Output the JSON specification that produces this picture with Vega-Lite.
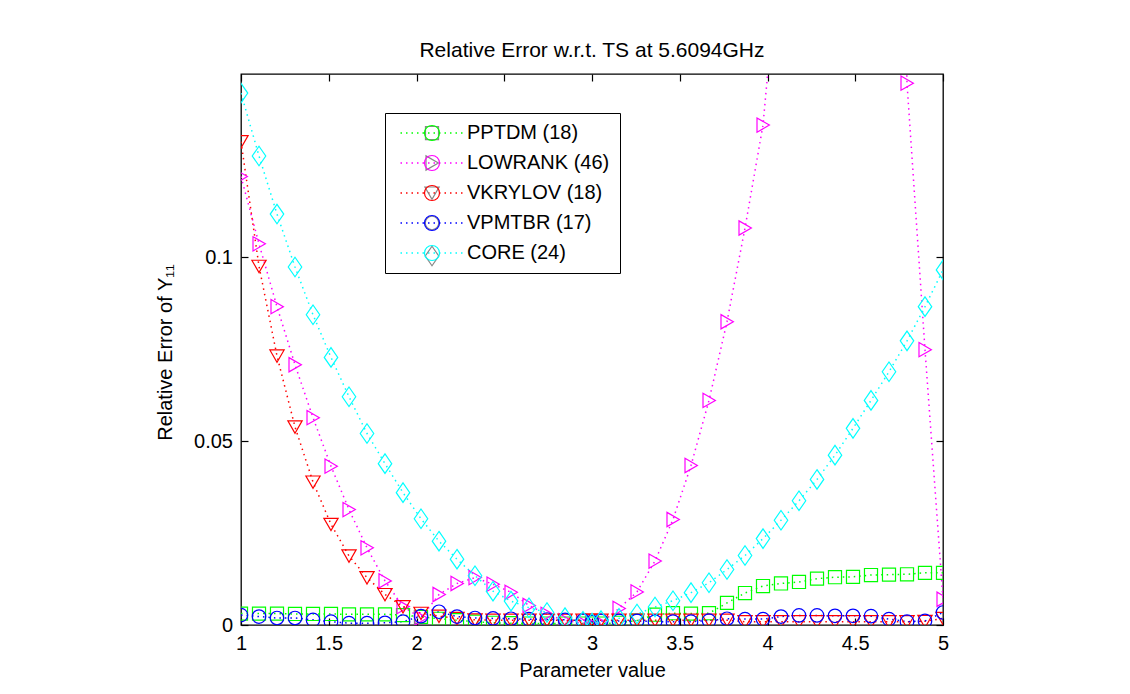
{
  "$schema": "https://vega.github.io/schema/vega-lite/v6.json",
  "autosize": {"type": "none"},
  "padding": {"left": 241, "top": 74, "right": 187, "bottom": 69},
  "width": 702,
  "height": 551,
  "background": "white",
  "title": {"text": "Relative Error w.r.t. TS at 5.6094GHz", "font": "Liberation Sans", "fontSize": 21, "fontWeight": "normal", "color": "black", "baseline": "alphabetic", "offset": -5, "anchor": "middle"},
  "config": {
    "view": {"stroke": "black", "strokeWidth": 1.3},
    "font": "Liberation Sans",
    "axis": {"grid": false}
  },
  "data": {"values": [
    {"s":"PPTDM (18)","x":1,"y":0.0031},{"s":"PPTDM (18)","x":1.1026,"y":0.0031},{"s":"PPTDM (18)","x":1.2051,"y":0.0031},{"s":"PPTDM (18)","x":1.3077,"y":0.003},{"s":"PPTDM (18)","x":1.4103,"y":0.003},{"s":"PPTDM (18)","x":1.5128,"y":0.003},{"s":"PPTDM (18)","x":1.6154,"y":0.0029},{"s":"PPTDM (18)","x":1.7179,"y":0.0029},{"s":"PPTDM (18)","x":1.8205,"y":0.0029},{"s":"PPTDM (18)","x":1.9231,"y":0.0027},{"s":"PPTDM (18)","x":2.0256,"y":0.0022},{"s":"PPTDM (18)","x":2.1282,"y":0.0017},{"s":"PPTDM (18)","x":2.2308,"y":0.0013},{"s":"PPTDM (18)","x":2.3333,"y":0.0009},{"s":"PPTDM (18)","x":2.4359,"y":0.0006},{"s":"PPTDM (18)","x":2.5385,"y":0.0005},{"s":"PPTDM (18)","x":2.641,"y":0.0004},{"s":"PPTDM (18)","x":2.7436,"y":0.0004},{"s":"PPTDM (18)","x":2.8462,"y":0.0004},{"s":"PPTDM (18)","x":2.9487,"y":0.0004},{"s":"PPTDM (18)","x":3,"y":0.0004},{"s":"PPTDM (18)","x":3.0513,"y":0.0004},{"s":"PPTDM (18)","x":3.1538,"y":0.0006},{"s":"PPTDM (18)","x":3.2564,"y":0.0012},{"s":"PPTDM (18)","x":3.359,"y":0.0028},{"s":"PPTDM (18)","x":3.4615,"y":0.0032},{"s":"PPTDM (18)","x":3.5641,"y":0.0031},{"s":"PPTDM (18)","x":3.6667,"y":0.0032},{"s":"PPTDM (18)","x":3.7692,"y":0.006},{"s":"PPTDM (18)","x":3.8718,"y":0.0087},{"s":"PPTDM (18)","x":3.9744,"y":0.0106},{"s":"PPTDM (18)","x":4.0769,"y":0.0113},{"s":"PPTDM (18)","x":4.1795,"y":0.0117},{"s":"PPTDM (18)","x":4.2821,"y":0.0126},{"s":"PPTDM (18)","x":4.3846,"y":0.013},{"s":"PPTDM (18)","x":4.4872,"y":0.0131},{"s":"PPTDM (18)","x":4.5897,"y":0.0136},{"s":"PPTDM (18)","x":4.6923,"y":0.0137},{"s":"PPTDM (18)","x":4.7949,"y":0.0138},{"s":"PPTDM (18)","x":4.8974,"y":0.0142},{"s":"PPTDM (18)","x":5,"y":0.0142},
    {"s":"LOWRANK (46)","x":1,"y":0.122},{"s":"LOWRANK (46)","x":1.1026,"y":0.1037},{"s":"LOWRANK (46)","x":1.2051,"y":0.0866},{"s":"LOWRANK (46)","x":1.3077,"y":0.0708},{"s":"LOWRANK (46)","x":1.4103,"y":0.0564},{"s":"LOWRANK (46)","x":1.5128,"y":0.0432},{"s":"LOWRANK (46)","x":1.6154,"y":0.0314},{"s":"LOWRANK (46)","x":1.7179,"y":0.021},{"s":"LOWRANK (46)","x":1.8205,"y":0.012},{"s":"LOWRANK (46)","x":1.9231,"y":0.005},{"s":"LOWRANK (46)","x":2.0256,"y":0.0019},{"s":"LOWRANK (46)","x":2.1282,"y":0.0083},{"s":"LOWRANK (46)","x":2.2308,"y":0.0113},{"s":"LOWRANK (46)","x":2.3333,"y":0.0129},{"s":"LOWRANK (46)","x":2.4359,"y":0.0111},{"s":"LOWRANK (46)","x":2.5385,"y":0.0089},{"s":"LOWRANK (46)","x":2.641,"y":0.0053},{"s":"LOWRANK (46)","x":2.7436,"y":0.0029},{"s":"LOWRANK (46)","x":2.8462,"y":0.0012},{"s":"LOWRANK (46)","x":2.9487,"y":0.0005},{"s":"LOWRANK (46)","x":3,"y":0.0002},{"s":"LOWRANK (46)","x":3.0513,"y":0.0005},{"s":"LOWRANK (46)","x":3.1538,"y":0.0045},{"s":"LOWRANK (46)","x":3.2564,"y":0.009},{"s":"LOWRANK (46)","x":3.359,"y":0.0174},{"s":"LOWRANK (46)","x":3.4615,"y":0.0287},{"s":"LOWRANK (46)","x":3.5641,"y":0.0434},{"s":"LOWRANK (46)","x":3.6667,"y":0.0611},{"s":"LOWRANK (46)","x":3.7692,"y":0.0825},{"s":"LOWRANK (46)","x":3.8718,"y":0.108},{"s":"LOWRANK (46)","x":3.9744,"y":0.136},{"s":"LOWRANK (46)","x":4.0769,"y":0.19},{"s":"LOWRANK (46)","x":4.1795,"y":0.25},{"s":"LOWRANK (46)","x":4.2821,"y":0.31},{"s":"LOWRANK (46)","x":4.3846,"y":0.36},{"s":"LOWRANK (46)","x":4.4872,"y":0.39},{"s":"LOWRANK (46)","x":4.5897,"y":0.4},{"s":"LOWRANK (46)","x":4.6923,"y":0.35},{"s":"LOWRANK (46)","x":4.7949,"y":0.1474},{"s":"LOWRANK (46)","x":4.8974,"y":0.0749},{"s":"LOWRANK (46)","x":5,"y":0.007},
    {"s":"VKRYLOV (18)","x":1,"y":0.1315},{"s":"VKRYLOV (18)","x":1.1026,"y":0.0976},{"s":"VKRYLOV (18)","x":1.2051,"y":0.0732},{"s":"VKRYLOV (18)","x":1.3077,"y":0.0539},{"s":"VKRYLOV (18)","x":1.4103,"y":0.0389},{"s":"VKRYLOV (18)","x":1.5128,"y":0.0274},{"s":"VKRYLOV (18)","x":1.6154,"y":0.0188},{"s":"VKRYLOV (18)","x":1.7179,"y":0.0129},{"s":"VKRYLOV (18)","x":1.8205,"y":0.0083},{"s":"VKRYLOV (18)","x":1.9231,"y":0.005},{"s":"VKRYLOV (18)","x":2.0256,"y":0.0032},{"s":"VKRYLOV (18)","x":2.1282,"y":0.0024},{"s":"VKRYLOV (18)","x":2.2308,"y":0.0018},{"s":"VKRYLOV (18)","x":2.3333,"y":0.0014},{"s":"VKRYLOV (18)","x":2.4359,"y":0.0013},{"s":"VKRYLOV (18)","x":2.5385,"y":0.0013},{"s":"VKRYLOV (18)","x":2.641,"y":0.0013},{"s":"VKRYLOV (18)","x":2.7436,"y":0.0013},{"s":"VKRYLOV (18)","x":2.8462,"y":0.0013},{"s":"VKRYLOV (18)","x":2.9487,"y":0.0013},{"s":"VKRYLOV (18)","x":3,"y":0.0013},{"s":"VKRYLOV (18)","x":3.0513,"y":0.0013},{"s":"VKRYLOV (18)","x":3.1538,"y":0.0013},{"s":"VKRYLOV (18)","x":3.2564,"y":0.0013},{"s":"VKRYLOV (18)","x":3.359,"y":0.0013},{"s":"VKRYLOV (18)","x":3.4615,"y":0.0013},{"s":"VKRYLOV (18)","x":3.5641,"y":0.0013},{"s":"VKRYLOV (18)","x":3.6667,"y":0.0013},{"s":"VKRYLOV (18)","x":3.7692,"y":0.0013},{"s":"VKRYLOV (18)","x":3.8718,"y":0.0009},{"s":"VKRYLOV (18)","x":3.9744,"y":0.0009},{"s":"VKRYLOV (18)","x":4.0769,"y":0.0009},{"s":"VKRYLOV (18)","x":4.1795,"y":0.0009},{"s":"VKRYLOV (18)","x":4.2821,"y":0.0009},{"s":"VKRYLOV (18)","x":4.3846,"y":0.0009},{"s":"VKRYLOV (18)","x":4.4872,"y":0.0009},{"s":"VKRYLOV (18)","x":4.5897,"y":0.0009},{"s":"VKRYLOV (18)","x":4.6923,"y":0.0009},{"s":"VKRYLOV (18)","x":4.7949,"y":0.0009},{"s":"VKRYLOV (18)","x":4.8974,"y":0.001},{"s":"VKRYLOV (18)","x":5,"y":0.0018},
    {"s":"VPMTBR (17)","x":1,"y":0.0027},{"s":"VPMTBR (17)","x":1.1026,"y":0.0023},{"s":"VPMTBR (17)","x":1.2051,"y":0.0019},{"s":"VPMTBR (17)","x":1.3077,"y":0.0019},{"s":"VPMTBR (17)","x":1.4103,"y":0.0014},{"s":"VPMTBR (17)","x":1.5128,"y":0.0009},{"s":"VPMTBR (17)","x":1.6154,"y":0.0005},{"s":"VPMTBR (17)","x":1.7179,"y":0.0005},{"s":"VPMTBR (17)","x":1.8205,"y":0.0006},{"s":"VPMTBR (17)","x":1.9231,"y":0.0009},{"s":"VPMTBR (17)","x":2.0256,"y":0.0024},{"s":"VPMTBR (17)","x":2.1282,"y":0.0036},{"s":"VPMTBR (17)","x":2.2308,"y":0.0023},{"s":"VPMTBR (17)","x":2.3333,"y":0.0019},{"s":"VPMTBR (17)","x":2.4359,"y":0.0018},{"s":"VPMTBR (17)","x":2.5385,"y":0.0017},{"s":"VPMTBR (17)","x":2.641,"y":0.0016},{"s":"VPMTBR (17)","x":2.7436,"y":0.0015},{"s":"VPMTBR (17)","x":2.8462,"y":0.0014},{"s":"VPMTBR (17)","x":2.9487,"y":0.0012},{"s":"VPMTBR (17)","x":3,"y":0.0008},{"s":"VPMTBR (17)","x":3.0513,"y":0.0011},{"s":"VPMTBR (17)","x":3.1538,"y":0.0011},{"s":"VPMTBR (17)","x":3.2564,"y":0.0011},{"s":"VPMTBR (17)","x":3.359,"y":0.0009},{"s":"VPMTBR (17)","x":3.4615,"y":0.0009},{"s":"VPMTBR (17)","x":3.5641,"y":0.0009},{"s":"VPMTBR (17)","x":3.6667,"y":0.0012},{"s":"VPMTBR (17)","x":3.7692,"y":0.0017},{"s":"VPMTBR (17)","x":3.8718,"y":0.0016},{"s":"VPMTBR (17)","x":3.9744,"y":0.0016},{"s":"VPMTBR (17)","x":4.0769,"y":0.0023},{"s":"VPMTBR (17)","x":4.1795,"y":0.0026},{"s":"VPMTBR (17)","x":4.2821,"y":0.0026},{"s":"VPMTBR (17)","x":4.3846,"y":0.0025},{"s":"VPMTBR (17)","x":4.4872,"y":0.0025},{"s":"VPMTBR (17)","x":4.5897,"y":0.0024},{"s":"VPMTBR (17)","x":4.6923,"y":0.0016},{"s":"VPMTBR (17)","x":4.7949,"y":0.0009},{"s":"VPMTBR (17)","x":4.8974,"y":0.0011},{"s":"VPMTBR (17)","x":5,"y":0.0034},
    {"s":"CORE (24)","x":1,"y":0.1447},{"s":"CORE (24)","x":1.1026,"y":0.1276},{"s":"CORE (24)","x":1.2051,"y":0.1118},{"s":"CORE (24)","x":1.3077,"y":0.0974},{"s":"CORE (24)","x":1.4103,"y":0.0844},{"s":"CORE (24)","x":1.5128,"y":0.0728},{"s":"CORE (24)","x":1.6154,"y":0.0621},{"s":"CORE (24)","x":1.7179,"y":0.0521},{"s":"CORE (24)","x":1.8205,"y":0.0439},{"s":"CORE (24)","x":1.9231,"y":0.036},{"s":"CORE (24)","x":2.0256,"y":0.0289},{"s":"CORE (24)","x":2.1282,"y":0.0228},{"s":"CORE (24)","x":2.2308,"y":0.0179},{"s":"CORE (24)","x":2.3333,"y":0.0134},{"s":"CORE (24)","x":2.4359,"y":0.0092},{"s":"CORE (24)","x":2.5385,"y":0.0065},{"s":"CORE (24)","x":2.641,"y":0.0047},{"s":"CORE (24)","x":2.7436,"y":0.0034},{"s":"CORE (24)","x":2.8462,"y":0.002},{"s":"CORE (24)","x":2.9487,"y":0.001},{"s":"CORE (24)","x":3,"y":0.0005},{"s":"CORE (24)","x":3.0513,"y":0.0012},{"s":"CORE (24)","x":3.1538,"y":0.0018},{"s":"CORE (24)","x":3.2564,"y":0.003},{"s":"CORE (24)","x":3.359,"y":0.0049},{"s":"CORE (24)","x":3.4615,"y":0.0066},{"s":"CORE (24)","x":3.5641,"y":0.0088},{"s":"CORE (24)","x":3.6667,"y":0.0115},{"s":"CORE (24)","x":3.7692,"y":0.0151},{"s":"CORE (24)","x":3.8718,"y":0.0189},{"s":"CORE (24)","x":3.9744,"y":0.0235},{"s":"CORE (24)","x":4.0769,"y":0.0285},{"s":"CORE (24)","x":4.1795,"y":0.0338},{"s":"CORE (24)","x":4.2821,"y":0.0396},{"s":"CORE (24)","x":4.3846,"y":0.0462},{"s":"CORE (24)","x":4.4872,"y":0.0535},{"s":"CORE (24)","x":4.5897,"y":0.0611},{"s":"CORE (24)","x":4.6923,"y":0.0689},{"s":"CORE (24)","x":4.7949,"y":0.0773},{"s":"CORE (24)","x":4.8974,"y":0.0866},{"s":"CORE (24)","x":5,"y":0.0966}
  ]},
  "layer": [
    {
      "mark": {"type": "line", "clip": true, "strokeDash": [1.5, 4], "strokeWidth": 1.5},
      "encoding": {
        "x": {"field": "x", "type": "quantitative",
          "scale": {"domain": [1, 5], "nice": false, "zero": false},
          "axis": {"orient": "bottom", "values": [1, 1.5, 2, 2.5, 3, 3.5, 4, 4.5, 5], "format": "~g", "domain": false,
            "ticks": true, "tickSize": -7, "tickColor": "black", "tickWidth": 1.2,
            "labelFont": "Liberation Sans", "labelFontSize": 20, "labelColor": "black", "labelPadding": 15, "labelFlush": false, "labelOverlap": false,
            "title": "Parameter value", "titleFont": "Liberation Sans", "titleFontSize": 20, "titleFontWeight": "normal", "titleColor": "black",
            "titleBaseline": "alphabetic", "titleY": 51}},
        "y": {"field": "y", "type": "quantitative",
          "scale": {"domain": [0, 0.1499], "nice": false, "zero": false},
          "axis": {"orient": "left", "values": [0, 0.05, 0.1], "format": "~g", "domain": false,
            "ticks": true, "tickSize": -7, "tickColor": "black", "tickWidth": 1.2,
            "labelFont": "Liberation Sans", "labelFontSize": 20, "labelColor": "black", "labelPadding": 15.5, "labelFlush": false, "labelOverlap": false,
            "title": "Relative Error of Y₁₁", "titleFont": "Liberation Sans", "titleFontSize": 20, "titleFontWeight": "normal", "titleColor": "black",
            "titleBaseline": "alphabetic", "titleAngle": 270, "titleX": -70, "titleY": 278, "titleAlign": "center"}},
        "color": {"field": "s", "type": "nominal",
          "scale": {"domain": ["PPTDM (18)", "LOWRANK (46)", "VKRYLOV (18)", "VPMTBR (17)", "CORE (24)"],
                    "range": ["#00ff00", "#ff00ff", "#ff0000", "#0000ff", "#00ffff"]},
          "legend": {"orient": "none", "legendX": 144, "legendY": 39, "title": null, "padding": 10, "rowPadding": 10,
            "fillColor": "white", "strokeColor": "black", "zindex": 0,
            "symbolType": "M-5,0H5", "symbolSize": 169, "symbolStrokeWidth": 1.5, "symbolDash": [1.5, 4], "symbolOffset": 28,
            "labelFont": "Liberation Sans", "labelFontSize": 20, "labelColor": "black", "labelOffset": 24}}
      }
    },
    {
      "mark": {"type": "point", "filled": false, "clip": true, "size": 225, "strokeWidth": 1.2, "opacity": 1},
      "encoding": {
        "x": {"field": "x", "type": "quantitative",
          "axis": {"orient": "top", "values": [1, 1.5, 2, 2.5, 3, 3.5, 4, 4.5, 5], "labels": false, "domain": false, "title": null,
            "ticks": true, "tickSize": -7, "tickColor": "black", "tickWidth": 1.2}},
        "y": {"field": "y", "type": "quantitative",
          "axis": {"orient": "right", "values": [0, 0.05, 0.1], "labels": false, "domain": false, "title": null,
            "ticks": true, "tickSize": -7, "tickColor": "black", "tickWidth": 1.2}},
        "stroke": {"field": "s", "type": "nominal",
          "sort": ["PPTDM (18)", "LOWRANK (46)", "VKRYLOV (18)", "VPMTBR (17)", "CORE (24)"],
          "scale": {"range": ["#00ff00", "#ff00ff", "#ff0000", "#0000ff", "#00ffff"]},
          "legend": {"orient": "none", "legendX": 181, "legendY": 49, "title": null, "padding": 0, "rowPadding": 10,
            "zindex": 1, "symbolSize": 225, "symbolStrokeWidth": 1.2,
            "labelFont": "Liberation Sans", "labelFontSize": 20, "labelExpr": "''"}},
        "shape": {"field": "s", "type": "nominal",
          "sort": ["PPTDM (18)", "LOWRANK (46)", "VKRYLOV (18)", "VPMTBR (17)", "CORE (24)"],
          "scale": {"range": [
            "M-0.87,-0.87H0.87V0.87H-0.87Z",
            "M-0.8,-0.95L0.85,0L-0.8,0.95Z",
            "M-0.95,-0.8H0.95L0,0.85Z",
            "M0.9,0A0.9,0.9,0,1,1,-0.9,0A0.9,0.9,0,1,1,0.9,0Z",
            "M0,-1.3L0.9,0L0,1.3L-0.9,0Z"]},
          "legend": {"orient": "none", "legendX": 181, "legendY": 49, "title": null, "padding": 0, "rowPadding": 10,
            "zindex": 1, "symbolSize": 225, "symbolStrokeWidth": 1.2,
            "labelFont": "Liberation Sans", "labelFontSize": 20, "labelExpr": "''"}}
      }
    }
  ],
  "resolve": {"axis": {"x": "independent", "y": "independent"}}
}
